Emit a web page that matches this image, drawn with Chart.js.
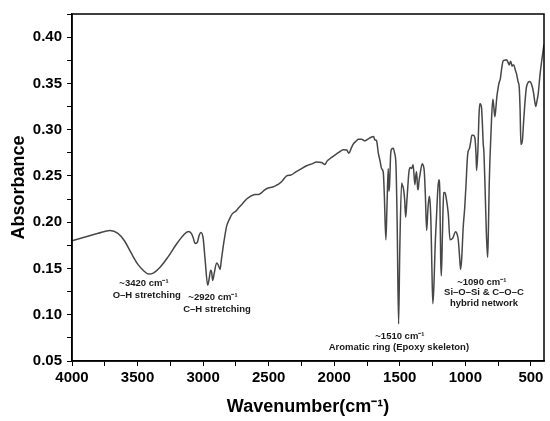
<!DOCTYPE html>
<html><head><meta charset="utf-8">
<script src="https://cdn.jsdelivr.net/npm/chart.js@4.4.1/dist/chart.umd.min.js"></script>
<style>html,body{margin:0;padding:0;background:#fff;}#wrap{width:550px;height:421px;position:relative;}</style>
</head><body><div id="wrap"><canvas id="c"></canvas></div>
<script>
const wavenumber = [4000,3900,3800,3710,3650,3600,3550,3500,3450,3418,3380,3330,3270,3200,3150,3113,3090,3075,3062,3045,3030,3016,3000,2985,2965,2955,2942,2935,2927,2915,2897,2885,2871,2860,2840,2820,2800,2778,2750,2732,2700,2668,2640,2605,2575,2553,2530,2503,2470,2440,2427,2400,2363,2330,2300,2260,2210,2170,2134,2096,2080,2071,2055,2033,2000,1960,1931,1905,1888,1870,1855,1830,1817,1791,1766,1740,1715,1700,1690,1677,1664,1650,1639,1626,1618,1606,1598,1588,1583,1578,1570,1562,1550,1540,1529,1520,1509,1500,1486,1480,1473,1463,1455,1445,1430,1420,1410,1398,1385,1378,1372,1364,1360,1353,1346,1329,1320,1313,1305,1295,1285,1275,1268,1262,1255,1248,1240,1230,1220,1210,1202,1195,1188,1183,1175,1165,1156,1148,1130,1117,1097,1074,1065,1054,1045,1036,1028,1016,1005,995,985,978,970,960,950,940,927,918,914,905,895,889,882,876,868,864,858,848,840,830,825,818,813,800,790,783,775,768,760,749,742,733,724,711,700,686,675,666,660,655,648,643,636,630,620,609,598,589,582,576,570,564,555,546,535,521,508,495,480,470,462,455,444,430,415,400];
const absorbance = [0.180,0.184,0.188,0.191,0.188,0.180,0.167,0.155,0.147,0.144,0.145,0.151,0.162,0.177,0.186,0.190,0.188,0.183,0.177,0.178,0.186,0.189,0.183,0.160,0.132,0.138,0.148,0.146,0.137,0.145,0.156,0.154,0.149,0.160,0.180,0.196,0.203,0.209,0.212,0.215,0.220,0.225,0.228,0.230,0.230,0.232,0.235,0.237,0.238,0.240,0.241,0.244,0.250,0.251,0.2535,0.257,0.261,0.263,0.265,0.2645,0.263,0.2623,0.266,0.2686,0.272,0.276,0.2784,0.278,0.2745,0.280,0.2844,0.288,0.2896,0.2896,0.288,0.290,0.292,0.2925,0.289,0.288,0.275,0.266,0.258,0.254,0.230,0.181,0.215,0.258,0.2335,0.240,0.272,0.279,0.280,0.275,0.2616,0.200,0.090,0.170,0.2423,0.240,0.237,0.225,0.2054,0.225,0.2545,0.259,0.258,0.262,0.2405,0.250,0.2545,0.237,0.235,0.245,0.251,0.2633,0.261,0.2545,0.230,0.191,0.215,0.228,0.220,0.198,0.150,0.112,0.130,0.175,0.2055,0.235,0.2458,0.235,0.160,0.142,0.185,0.2318,0.232,0.228,0.209,0.181,0.1826,0.1897,0.188,0.181,0.165,0.149,0.160,0.195,0.215,0.240,0.268,0.277,0.279,0.286,0.294,0.294,0.291,0.272,0.256,0.275,0.318,0.328,0.327,0.323,0.300,0.286,0.275,0.230,0.190,0.162,0.185,0.240,0.265,0.312,0.333,0.325,0.314,0.322,0.335,0.346,0.351,0.355,0.365,0.3745,0.375,0.3756,0.373,0.370,0.372,0.374,0.371,0.3686,0.370,0.370,0.365,0.360,0.352,0.346,0.320,0.284,0.285,0.2896,0.310,0.328,0.345,0.351,0.352,0.349,0.340,0.330,0.325,0.330,0.339,0.360,0.377,0.392];
const xTickValues = [4000,3750,3500,3250,3000,2750,2500,2250,2000,1750,1500,1250,1000,750,500];
const yTickValues = [0.05,0.075,0.10,0.125,0.15,0.175,0.20,0.225,0.25,0.275,0.30,0.325,0.35,0.375,0.40,0.425];
const noteText = ["~3420 cm\u207B\u00B9","O\u2013H stretching","~2920 cm\u207B\u00B9","C\u2013H stretching","~1510 cm\u207B\u00B9","Aromatic ring (Epoxy skeleton)","~1090 cm\u207B\u00B9","Si\u2013O\u2013Si & C\u2013O\u2013C","hybrid network"];
const noteX = [3451,3430,2925,2894,1499,1507,874,858,858];
const noteY = [0.1335,0.1205,0.1184,0.1058,0.0766,0.0651,0.1353,0.1237,0.1121];

const FONT = "'Liberation Sans', Arial, sans-serif";
const points = wavenumber.map((w,i)=>({x:w,y:absorbance[i]}));

const framePlugin = {
  id:'frame',
  afterDatasetsDraw(chart){
    const {ctx, chartArea:a, scales} = chart;
    ctx.save();
    ctx.font = "bold 9.5px " + FONT;
    ctx.fillStyle = '#1a1a1a';
    ctx.textAlign = 'center';
    ctx.textBaseline = 'middle';
    noteText.forEach((t,i)=>{
      ctx.fillText(t, scales.x.getPixelForValue(noteX[i]), scales.y.getPixelForValue(noteY[i]));
    });
    ctx.strokeStyle = '#000';
    ctx.lineWidth = 1.5;
    ctx.strokeRect(a.left, a.top, a.right-a.left, a.bottom-a.top);
    ctx.restore();
  }
};

new Chart(document.getElementById('c'), {
  type:'line',
  data:{datasets:[{data:points, borderColor:'#474747', borderWidth:1.5, pointRadius:0, fill:false, cubicInterpolationMode:'monotone'}]},
  options:{
    responsive:true, maintainAspectRatio:false, animation:false,
    layout:{padding:{top:5,right:6,left:0,bottom:0}},
    plugins:{legend:{display:false}, tooltip:{enabled:false}},
    scales:{
      x:{type:'linear', reverse:true, min:400, max:4000,
        afterBuildTicks(s){ s.ticks = xTickValues.map(v=>({value:v})); },
        afterFit(s){ s.height = 60; },
        grid:{drawOnChartArea:false, drawTicks:true, tickLength:5, color:'#000', lineWidth:1},
        border:{display:true, color:'#000', width:1.5},
        ticks:{autoSkip:false, maxRotation:0, padding:3, color:'#000', font:{family:FONT, size:15, weight:'bold'},
          callback:(v)=> (v % 500 === 0 ? String(v) : '')},
        title:{display:true, text:'Wavenumber(cm\u207B\u00B9)', color:'#000', font:{family:FONT, size:18, weight:'bold'}, padding:{top:0,bottom:3}}
      },
      y:{type:'linear', min:0.05, max:0.425,
        afterBuildTicks(s){ s.ticks = yTickValues.map(v=>({value:v})); },
        afterFit(s){ s.width = 72; },
        grid:{drawOnChartArea:false, drawTicks:true, tickLength:5, color:'#000', lineWidth:1},
        border:{display:true, color:'#000', width:1.5},
        ticks:{autoSkip:false, padding:5, color:'#000', font:{family:FONT, size:15, weight:'bold'},
          callback:(v)=> (Math.abs(Math.round(v*1000) % 50) === 0 ? v.toFixed(2) : '')},
        title:{display:true, text:'Absorbance', color:'#000', font:{family:FONT, size:18, weight:'bold'}, padding:{top:8,bottom:0}}
      }
    }
  },
  plugins:[framePlugin]
});
</script>
</body></html>
